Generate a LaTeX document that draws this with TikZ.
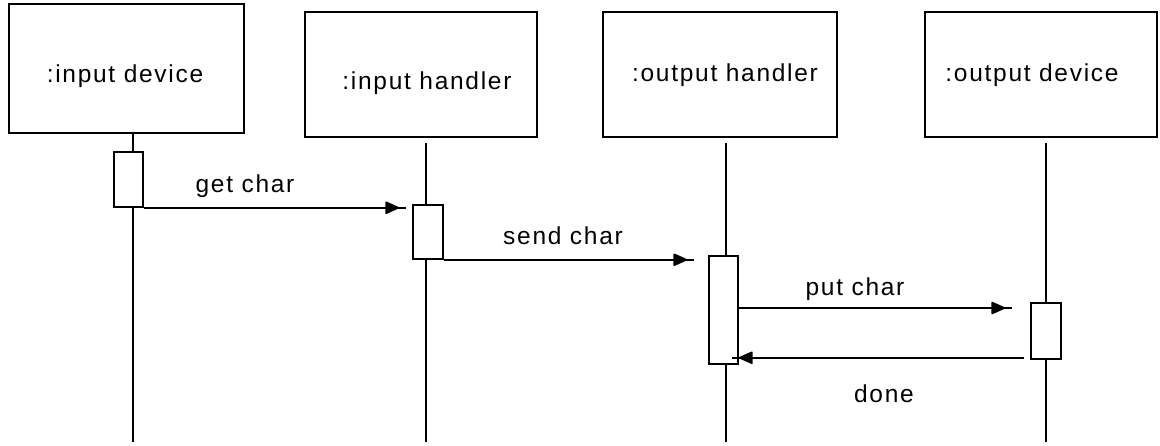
\documentclass[tikz,border=0pt]{standalone}
\usepackage{fontspec}
\setmainfont{Liberation Sans}[LetterSpace=7]
\usetikzlibrary{arrows.meta,decorations.markings,calc}
\begin{document}
\begin{tikzpicture}[x=1pt,y=-1pt,
  lw/.style={line width=1.5pt},
  objbox/.style={draw, lw, inner sep=0pt, fill=white},
  act/.style={draw, lw, inner sep=0pt, fill=white},
  txt/.style={anchor=base, inner sep=0pt, font=\fontsize{24.5}{28}\selectfont},
  msg/.style={lw, decoration={markings,
      mark=at position -7pt with {\arrow{Triangle[length=15pt,width=13pt,round]}}},
    postaction={decorate}}]
\useasboundingbox (0,0) rectangle (1160,445);

% object boxes
\node[objbox, minimum width=235, minimum height=129] (idev) at (126.5,68.5) {};
\node[objbox, minimum width=232, minimum height=125] (ihan) at (421,74.5) {};
\node[objbox, minimum width=234, minimum height=125] (ohan) at (720,74.5) {};
\node[objbox, minimum width=232, minimum height=125] (odev) at (1041,74.5) {};

\node[txt] (idev-t) at (125,82) {:input device};
\node[txt] (ihan-t) at (427,89) {:input handler};
\node[txt] (ohan-t) at (725,81) {:output handler};
\node[txt] (odev-t) at (1032,81) {:output device};

% lifelines
\coordinate (idev-end) at (133,442);
\coordinate (ihan-end) at (426,442);
\coordinate (ohan-end) at (726,442);
\coordinate (odev-end) at (1046,442);
\draw[lw] (idev-end |- idev.south) -- (idev-end);
\draw[lw] ($(ihan-end |- ihan.south)+(0,5)$) -- (ihan-end);
\draw[lw] ($(ohan-end |- ohan.south)+(0,5)$) -- (ohan-end);
\draw[lw] ($(odev-end |- odev.south)+(0,5)$) -- (odev-end);

% activation bars
\node[act, minimum width=29, minimum height=55] (a1) at (128.5,179.5) {};
\node[act, minimum width=30, minimum height=54] (a2) at (428,232) {};
\node[act, minimum width=29, minimum height=108] (a3) at (723.5,310) {};
\node[act, minimum width=30, minimum height=56] (a4) at (1046,331) {};

% messages
\draw[msg] (a1.south east) -- ($(a2.west |- a1.south east)+(-6,0)$);
\draw[msg] (a2.south east) -- ($(a3.west |- a2.south east)+(-14,0)$);
\draw[msg] ($(a3.east)+(0,-2)$) -- ($(a4.west |- a3.east)+(-18,-2)$);
\draw[msg] ($(a4.south west)+(-6,-2)$) -- ($(a3.east |- a4.south west)+(-7,-2)$);

\node[txt] (m1) at (245,192) {get char};
\node[txt] (m2) at (563,244) {send char};
\node[txt] (m3) at (855,295) {put char};
\node[txt] (m4) at (884,402) {done};
\end{tikzpicture}
\end{document}
